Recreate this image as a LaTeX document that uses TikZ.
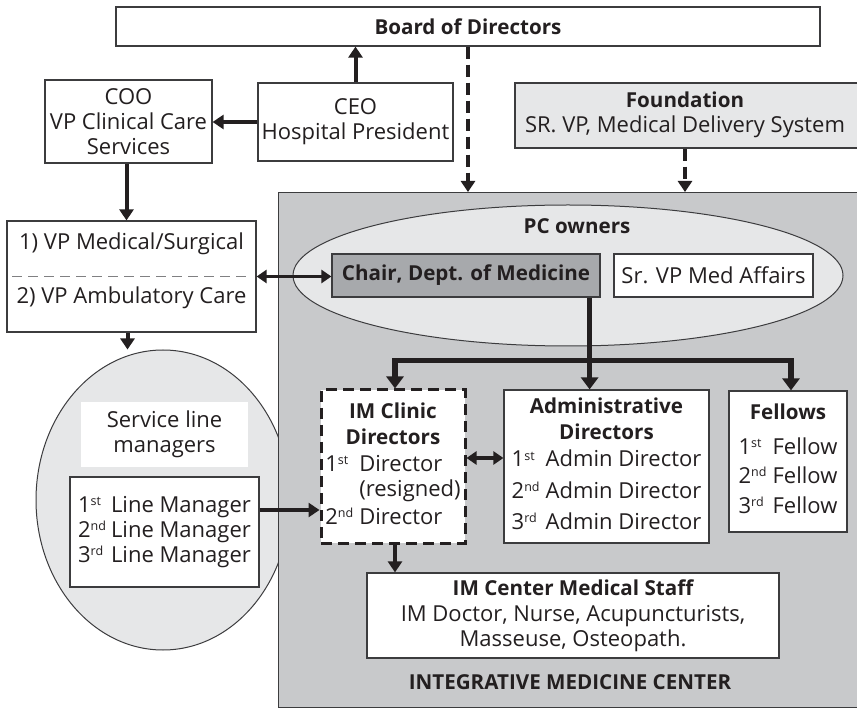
\documentclass[tikz,border=0pt]{standalone}
\usepackage{fontspec}
\setmainfont{Open Sans}
\usetikzlibrary{arrows.meta,calc,shapes.geometric}
\definecolor{ink}{HTML}{231F20}
\definecolor{bordc}{HTML}{3C3C3E}
\definecolor{bgc}{HTML}{C8C9CB}
\definecolor{lightc}{HTML}{E6E7E8}
\definecolor{chairc}{HTML}{A7A9AC}
\definecolor{sepc}{HTML}{808082}
\newcommand\ordsup[1]{\raisebox{7pt}{\fontsize{12.5}{12.5}\selectfont #1}}
\newcommand\bfx[1]{{\fontsize{20.6}{25}\selectfont\bfseries #1}}
\begin{document}
\begin{tikzpicture}[x=1pt,y=-1pt,
  base/.style={text=ink, inner sep=0pt, font=\fontsize{22}{25}\selectfont},
  box/.style={base, draw=bordc, line width=1.2pt, fill=white, align=center},
  lbl/.style={base, align=center},
  arr/.style={draw=ink, line width=4pt, -{Triangle[width=14pt,length=11pt]}},
  darr/.style={draw=ink, line width=3.5pt, {Triangle[width=13pt,length=10pt]}-{Triangle[width=13pt,length=10pt]}},
  dasharr/.style={arr, line width=4.2pt, dash pattern=on 12pt off 6pt},
  bararr/.style={draw=ink, line width=5.5pt, -{Triangle[width=17pt,length=12pt]}},
  region/.style={draw=bordc, line width=1.2pt, fill=bgc, inner sep=0pt},
  oval/.style={ellipse, draw=bordc, line width=1pt, fill=lightc, inner sep=0pt},
]
\useasboundingbox (0,0) rectangle (857,708);
\clip (0,0) rectangle (857,708);
\fill[white] (0,0) rectangle (857,708);

% service line ellipse (behind the region)
\node[oval, minimum width=254, minimum height=300] (slm) at (163,500) {};
% integrative medicine center region
\node[region, minimum width=590, minimum height=515, anchor=north west] (imc) at (278,192) {};
\node[lbl] (imclbl) at (570,682) {\bfx{INTEGRATIVE MEDICINE CENTER}};

% top
\node[box, minimum width=704, minimum height=39] (board) at (468,26.5) {\bfx{Board of Directors}};
\node[box, minimum width=167, minimum height=83] (coo) at (128.5,121.5) {COO\\VP Clinical Care\\Services};
\node[box, minimum width=195, minimum height=78] (ceo) at (355.5,122) {CEO\\Hospital President};
\node[box, fill=lightc, minimum width=350, minimum height=65] (found) at (690,115.5)
  {\hspace*{-10pt}\begin{tabular}{@{}c@{}}\bfx{Foundation}\\SR. VP, Medical Delivery System\end{tabular}};

% VP box
\node[box, minimum width=249, minimum height=111] (vp) at (131.5,276.5) {};
\node[lbl] (vp1) at (131.5,244) {1) VP Medical/Surgical};
\node[lbl] (vp2) at (131.5,298) {2) VP Ambulatory Care};
\draw[sepc, line width=1pt, dash pattern=on 10pt off 6pt] ($(vp.west)+(6,0)$) -- ($(vp.east)+(-6,0)$);

% PC owners
\node[oval, minimum width=550, minimum height=141] (pc) at (568,275.5) {};
\node[lbl] (pclbl) at (577,226) {\bfx{PC owners}};
\node[box, fill=chairc, minimum width=268, minimum height=43] (chair) at (466,275.5) {\bfx{Chair, Dept. of Medicine}};
\node[box, minimum width=199, minimum height=43] (srvp) at (713.5,275.5) {Sr. VP Med Affairs};

% service line managers
\node[lbl, fill=white, minimum width=167, minimum height=65] (slmlbl) at (164.5,434.5) {Service line\\managers};
\node[box, minimum width=189, minimum height=110] (lm) at (164.5,532)
  {\begin{tabular}{@{}l@{\hspace{5pt}}l@{}}1\ordsup{st} & Line Manager\\2\ordsup{nd} & Line Manager\\3\ordsup{rd} & Line Manager\end{tabular}};

% directors
\node[box, draw=ink, line width=3pt, dash pattern=on 11pt off 6pt, minimum width=144, minimum height=153] (clinic) at (393,466.5)
  {\begin{tabular}{@{}l@{\hspace{6pt}}l@{}}
   \multicolumn{2}{c}{\bfx{IM Clinic}}\\[1pt]
   \multicolumn{2}{c}{\bfx{Directors}}\\[2pt]
   1\ordsup{st} & Director\\
    & (resigned)\\[3pt]
   2\ordsup{nd} & Director
   \end{tabular}};
\node[box, minimum width=205, minimum height=153] (admin) at (606.5,466.5)
  {\begin{tabular}{@{}l@{\hspace{6pt}}l@{}}
   \multicolumn{2}{c}{\bfx{Administrative}}\\[1pt]
   \multicolumn{2}{c}{\bfx{Directors}}\\[2pt]
   1\ordsup{st} & Admin Director\\[6pt]
   2\ordsup{nd} & Admin Director\\[6pt]
   3\ordsup{rd} & Admin Director
   \end{tabular}};
\node[box, minimum width=118, minimum height=141] (fellows) at (788,461.5)
  {\begin{tabular}{@{}l@{\hspace{6pt}}l@{}}
   \multicolumn{2}{c}{\bfx{Fellows}}\\[10pt]
   1\ordsup{st} & Fellow\\[4pt]
   2\ordsup{nd} & Fellow\\[5pt]
   3\ordsup{rd} & Fellow
   \end{tabular}};
\node[box, minimum width=412, minimum height=85] (staff) at (573,615.5)
  {\bfx{IM Center Medical Staff}\\[1pt]IM Doctor, Nurse, Acupuncturists,\\Masseuse, Osteopath.};

% connectors
\draw[arr] (ceo.north) -- (ceo.north |- board.south);
\draw[arr] (ceo.west) -- (ceo.west -| coo.east);
\draw[arr] ($(coo.south)+(-2,0)$) coordinate (c1) -- (c1 |- vp.north);
\draw[dasharr] (board.south) -- (board.south |- imc.north);
\draw[dasharr] ($(found.south)+(-5,0)$) coordinate (f1) -- (f1 |- imc.north);
\draw[darr] (vp.east) -- (vp.east -| chair.west);
\draw[arr] ($(vp.south)+(-4,0)$) coordinate (v1) -- (v1 |- slm.north);
\coordinate (t0) at ($(chair.south east)+(-11,0)$);
\coordinate (t1) at ($(t0)+(0,63)$);
\draw[bararr] (t0) -- (t0 |- admin.north);
\draw[bararr] (t1) -| ($(clinic.north)+(2,0)$);
\draw[bararr] (t1) -| ($(fellows.north)+(3,0)$);
\draw[arr] ($(lm.east)+(0,-22)$) coordinate (l1) -- (l1 -| clinic.west);
\draw[darr] ($(clinic.east)+(0,-8.5)$) coordinate (k1) -- (k1 -| admin.west);
\draw[arr] ($(clinic.south)+(2,0)$) coordinate (s1) -- (s1 |- staff.north);
\end{tikzpicture}
\end{document}
